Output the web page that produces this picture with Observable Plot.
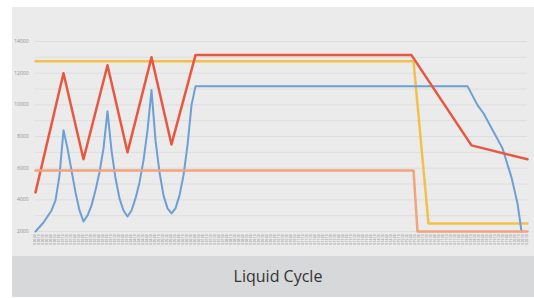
<!DOCTYPE html>
<html>
<head>
<meta charset="utf-8">
<script src="https://cdn.jsdelivr.net/npm/d3@7"></script>
<script src="https://cdn.jsdelivr.net/npm/@observablehq/plot@0.6"></script>
<style>
  html, body { margin: 0; padding: 0; background: #ffffff; }
  #wrap { position: absolute; left: 12px; top: 7px; width: 522px; }
  #chart svg { display: block; background: #ebebec; }
  #caption { height: 41px; background: #d7d8da; color: #333; font-family: "Open Sans", sans-serif;
    font-size: 16px; line-height: 40px; text-align: center; padding-left: 10px; box-sizing: border-box; }
</style>
</head>
<body>
<div id="wrap">
  <div id="chart"></div>
  <div id="caption">Liquid Cycle</div>
</div>
<script>
// ---- data ----
const xCount = 124;
const xLabels = d3.range(xCount).map(i => "0:" + String(Math.floor(i / 6)).padStart(2, "0") + ":" + String((i % 6) * 10).padStart(2, "0"));
const yTicks = [2000, 4000, 6000, 8000, 10000, 12000, 14000];
const yGrid = [2000, 3000, 4000, 5000, 6000, 7000, 8000, 9000, 10000, 11000, 12000, 13000, 14000];

const yellowX = [0, 94.5, 98.25, 123];
const yellowY = [12760, 12760, 2500, 2500];

const orangeX = [0, 94.5, 95.5, 123];
const orangeY = [5860, 5860, 2000, 2000];

const redX = [0, 7, 12, 18, 23, 29, 34, 40, 94, 109, 123];
const redY = [4470, 12000, 6560, 12500, 7000, 13000, 7500, 13140, 13140, 7440, 6560];

const blueX = [0, 2, 4, 5, 6, 7, 8, 9, 10, 11, 12, 13, 14, 15, 16, 17, 18, 19, 20, 21, 22, 23,
  24, 25, 26, 27, 28, 29, 30, 31, 32, 33, 34, 35, 36, 37, 38, 39, 40, 108, 110.5, 112, 116.75, 119, 120.5, 121.5];
const blueY = [2000, 2570, 3330, 3960, 5545, 8390, 7250, 5860, 4470, 3330, 2630, 3010, 3650, 4600, 5740, 7250, 9600,
  7130, 5360, 4090, 3330, 2950, 3330, 4090, 5100, 6490, 8390, 10930, 7760, 5740, 4280, 3460, 3140,
  3460, 4280, 5545, 7440, 9980, 11180, 11180, 9980, 9470, 7250, 5420, 3770, 2000];

const toRows = (xs, ys) => xs.map((x, i) => ({x, y: ys[i]}));

const chart = Plot.plot({
  width: 522,
  height: 249,
  marginLeft: 23,
  marginRight: 7,
  marginTop: 34,
  marginBottom: 25,
  style: {fontFamily: "Open Sans, sans-serif", background: "#ebebec"},
  x: {type: "linear", domain: [0, xCount - 1], axis: null},
  y: {domain: [2000, 14000], axis: null},
  marks: [
    Plot.ruleY(yGrid, {stroke: "#dedede", strokeWidth: 1}),
    Plot.axisY({ticks: yTicks, tickSize: 0, tickPadding: 7, fontSize: 5, color: "#8f8f8f", label: null,
      tickFormat: d => String(d)}),
    Plot.axisX({ticks: d3.range(xCount), tickFormat: i => xLabels[i], tickRotate: -90, label: null,
      tickSize: 0, tickPadding: 3, fontSize: 3, color: "#8a8a8a"}),
    Plot.line(toRows(yellowX, yellowY), {x: "x", y: "y", stroke: "#f3c14b", strokeWidth: 2.5}),
    Plot.line(toRows(blueX, blueY), {x: "x", y: "y", stroke: "#6c9fd6", strokeWidth: 2}),
    Plot.line(toRows(redX, redY), {x: "x", y: "y", stroke: "#e8573f", strokeWidth: 2.5}),
    Plot.line(toRows(orangeX, orangeY), {x: "x", y: "y", stroke: "#f2a47a", strokeWidth: 2.5})
  ]
});
document.getElementById("chart").appendChild(chart);
</script>
</body>
</html>
